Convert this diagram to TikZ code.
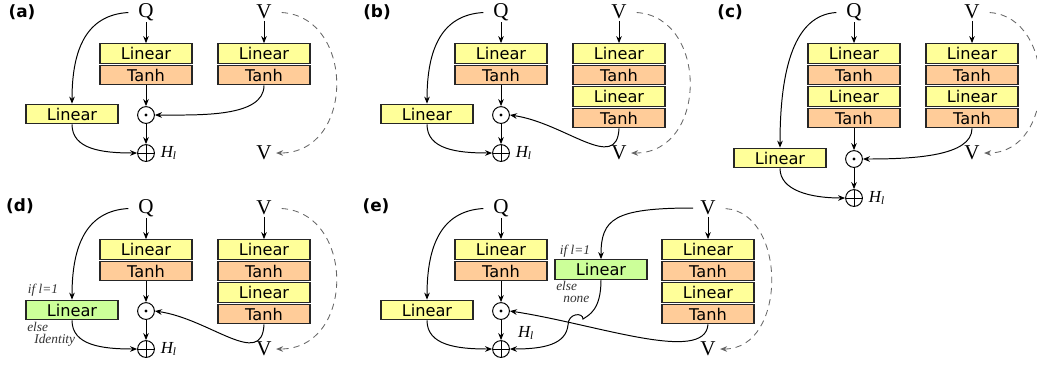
\documentclass[tikz,border=0pt]{standalone}
\usepackage{fontspec}
\setmainfont{Liberation Serif}
\setsansfont{DejaVu Sans}
\usepackage{tikz}
\usetikzlibrary{arrows.meta,positioning}
\definecolor{linyellow}{HTML}{FFFF99}
\definecolor{tanhorange}{HTML}{FFCC99}
\definecolor{lingreen}{HTML}{CCFF99}
\begin{document}
\begin{tikzpicture}[x=0.025cm,y=-0.025cm,
      box/.style={draw=black!85,line width=0.8pt,minimum width=2.3cm,minimum height=0.49cm,inner sep=0pt,
        font=\sffamily\fontsize{11.5}{13}\selectfont},
      lin/.style={box,fill=linyellow},
      lingr/.style={box,fill=lingreen},
      tanh/.style={box,fill=tanhorange},
      var/.style={inner sep=1pt,font=\fontsize{15}{16}\selectfont},
      odot/.style={circle,draw,line width=0.7pt,minimum size=0.42cm,inner sep=0pt,
        path picture={\fill (path picture bounding box.center) circle (1.1pt);}},
      oplus/.style={circle,draw,line width=0.7pt,minimum size=0.42cm,inner sep=0pt,
        path picture={\draw[line width=0.7pt] (path picture bounding box.north) -- (path picture bounding box.south)
          (path picture bounding box.west) -- (path picture bounding box.east);}},
      hl/.style={inner sep=0pt,font=\fontsize{12}{13}\selectfont\itshape},
      lbl/.style={inner sep=0pt,font=\sffamily\bfseries\fontsize{12}{13}\selectfont},
      note/.style={inner sep=0pt,align=left,font=\fontsize{9.5}{8.5}\selectfont\itshape,text=black!80},
      arr/.style={line width=0.7pt,-{Stealth[length=5pt,width=4pt]}},
      skip/.style={line width=0.6pt,draw=black!60,dash pattern=on 4.5pt off 3.5pt,
        shorten <=6pt,shorten >=2pt,-{Stealth[length=5pt,width=4pt]}}]
  \useasboundingbox (0,0) rectangle (1037,364);
  \node[lbl] (aL) at (22,12) {(a)};
  \node[var] (aQ) at (146,12) {Q};
  \node[var] (aV) at (264,12) {V};
  \node[lin] (aQ1) at (146,53.5) {Linear};
  \node[tanh] (aQ2) at (146,75) {Tanh};
  \node[lin] (aV1) at (264,53.5) {Linear};
  \node[tanh] (aV2) at (264,75) {Tanh};
  \node[lin] (aS) at (72,114) {Linear};
  \node[odot] (aM) at (146,115) {};
  \node[oplus] (aP) at (146,153) {};
  \node[hl,right=4pt of aP] (aH) {H\textsubscript{l}};
  \node[var] (aVo) at (264,153) {V};
  \draw[arr] (aQ) -- (aQ1);
  \draw[arr] (aV) -- (aV1);
  \draw[arr] (aQ2) -- (aM);
  \draw[arr] (aM) -- (aP);
  \draw[arr,shorten <=6pt] (aQ.west) .. controls +(-50,3) and +(0,-55) .. (aS.north);
  \draw[arr] (aS.south) .. controls +(0,25) and +(-35,0) .. (aP.west);
  \draw[arr] (aV2.south) .. controls +(0,32) and +(45,0) .. (aM.east);
  \draw[skip] (aV.east) .. controls +(82,5) and +(82,0) .. (aVo.east);
  \begin{scope}[shift={(355,0)}]
    \node[lbl] (bL) at (22,12) {(b)};
    \node[var] (bQ) at (146,12) {Q};
    \node[var] (bV) at (264,12) {V};
    \node[lin] (bQ1) at (146,53.5) {Linear};
    \node[tanh] (bQ2) at (146,75) {Tanh};
    \node[lin] (bV1) at (264,53.5) {Linear};
    \node[tanh] (bV2) at (264,75) {Tanh};
    \node[lin] (bV3) at (264,96.5) {Linear};
    \node[tanh] (bV4) at (264,118) {Tanh};
    \node[lin] (bS) at (72,114) {Linear};
    \node[odot] (bM) at (146,115) {};
    \node[oplus] (bP) at (146,153) {};
    \node[hl,right=4pt of bP] (bH) {H\textsubscript{l}};
    \node[var] (bVo) at (264,153) {V};
    \draw[arr] (bQ) -- (bQ1);
    \draw[arr] (bV) -- (bV1);
    \draw[arr] (bQ2) -- (bM);
    \draw[arr] (bM) -- (bP);
    \draw[arr,shorten <=6pt] (bQ.west) .. controls +(-50,3) and +(0,-55) .. (bS.north);
    \draw[arr] (bS.south) .. controls +(0,25) and +(-35,0) .. (bP.west);
    \draw[arr] (bV4.south) .. controls +(-2,45) and +(55,8) .. (bM.east);
    \draw[skip] (bV.east) .. controls +(80,5) and +(80,0) .. (bVo.east);
  \end{scope}
  \begin{scope}[shift={(708,0)}]
    \node[lbl] (cL) at (22,12) {(c)};
    \node[var] (cQ) at (146,12) {Q};
    \node[var] (cV) at (264,12) {V};
    \node[lin] (cQ1) at (146,53.5) {Linear};
    \node[tanh] (cQ2) at (146,75) {Tanh};
    \node[lin] (cQ3) at (146,96.5) {Linear};
    \node[tanh] (cQ4) at (146,118) {Tanh};
    \node[lin] (cV1) at (264,53.5) {Linear};
    \node[tanh] (cV2) at (264,75) {Tanh};
    \node[lin] (cV3) at (264,96.5) {Linear};
    \node[tanh] (cV4) at (264,118) {Tanh};
    \node[lin] (cS) at (72,158) {Linear};
    \node[odot] (cM) at (146,159) {};
    \node[oplus] (cP) at (146,198) {};
    \node[hl,right=4pt of cP] (cH) {H\textsubscript{l}};
    \node[var] (cVo) at (264,153) {V};
    \draw[arr] (cQ) -- (cQ1);
    \draw[arr] (cV) -- (cV1);
    \draw[arr] (cQ4) -- (cM);
    \draw[arr] (cM) -- (cP);
    \draw[arr,shorten <=6pt] (cQ.west) .. controls +(-50,3) and +(0,-80) .. (cS.north);
    \draw[arr] (cS.south) .. controls +(0,22) and +(-35,0) .. (cP.west);
    \draw[arr] (cV4.south) .. controls +(0,28) and +(50,0) .. (cM.east);
    \draw[skip] (cV.east) .. controls +(76,5) and +(76,0) .. (cVo.east);
  \end{scope}
  \begin{scope}[shift={(0,196)}]
    \node[lbl] (dL) at (20,10) {(d)};
    \node[var] (dQ) at (146,12) {Q};
    \node[var] (dV) at (264,12) {V};
    \node[lin] (dQ1) at (146,53.5) {Linear};
    \node[tanh] (dQ2) at (146,75) {Tanh};
    \node[lin] (dV1) at (264,53.5) {Linear};
    \node[tanh] (dV2) at (264,75) {Tanh};
    \node[lin] (dV3) at (264,96.5) {Linear};
    \node[tanh] (dV4) at (264,118) {Tanh};
    \node[lingr] (dS) at (72,114) {Linear};
    \node[odot] (dM) at (146,115) {};
    \node[oplus] (dP) at (146,153) {};
    \node[hl,right=4pt of dP] (dH) {H\textsubscript{l}};
    \node[var] (dVo) at (264,153) {V};
    \node[note] (dIf) at (43,94) {if l=1};
    \node[note,anchor=north west] (dElse) at (27,126) {else\\\hspace*{5pt}Identity};
    \draw[arr] (dQ) -- (dQ1);
    \draw[arr] (dV) -- (dV1);
    \draw[arr] (dQ2) -- (dM);
    \draw[arr] (dM) -- (dP);
    \draw[arr,shorten <=6pt] (dQ.west) .. controls +(-50,3) and +(0,-55) .. (dS.north);
    \draw[arr] (dS.south) .. controls +(0,25) and +(-35,0) .. (dP.west);
    \draw[arr] (dV4.south) .. controls +(-2,45) and +(55,8) .. (dM.east);
    \draw[skip] (dV.east) .. controls +(82,5) and +(82,0) .. (dVo.east);
  \end{scope}
  \begin{scope}[shift={(355,196)}]
    \node[lbl] (eL) at (21,10) {(e)};
    \node[var] (eQ) at (146,12) {Q};
    \node[var] (eV) at (353,12) {V};
    \node[lin] (eQ1) at (146,53.5) {Linear};
    \node[tanh] (eQ2) at (146,75) {Tanh};
    \node[lingr] (eG) at (246,73.5) {Linear};
    \node[lin] (eV1) at (353,53.5) {Linear};
    \node[tanh] (eV2) at (353,75) {Tanh};
    \node[lin] (eV3) at (353,96.5) {Linear};
    \node[tanh] (eV4) at (353,118) {Tanh};
    \node[lin] (eS) at (72,114) {Linear};
    \node[odot] (eM) at (146,115) {};
    \node[oplus] (eP) at (146,153) {};
    \node[hl] (eH) at (171,137) {H\textsubscript{l}};
    \node[var] (eVo) at (353,153) {V};
    \node[note] (eIf) at (220,55) {if l=1};
    \node[note,anchor=north west] (eElse) at (201,85) {else\\\hspace*{5pt}none};
    \draw[arr] (eQ) -- (eQ1);
    \draw[arr] (eV) -- (eV1);
    \draw[arr] (eQ2) -- (eM);
    \draw[arr] (eM) -- (eP);
    \draw[arr,shorten <=6pt] (eQ.west) .. controls +(-50,3) and +(0,-55) .. (eS.north);
    \draw[arr] (eS.south) .. controls +(0,25) and +(-35,0) .. (eP.west);
    \draw[arr,shorten <=4pt] (eV.west) .. controls +(-85,0) and +(0,-40) .. (eG.north);
    \draw[arr] (eV4.south) .. controls +(-3,40) and +(86,13) .. (eM.east);
    \draw[arr] (eG.south) .. controls +(0,30) and +(6,-4) .. (228,123)
      .. controls (228,116) and (213,117) .. (213,129)
      .. controls (211,148) and (190,153) .. (eP.east);
    \draw[skip] (eV.east) .. controls +(70,5) and +(70,0) .. (eVo.east);
  \end{scope}
\end{tikzpicture}
\end{document}
